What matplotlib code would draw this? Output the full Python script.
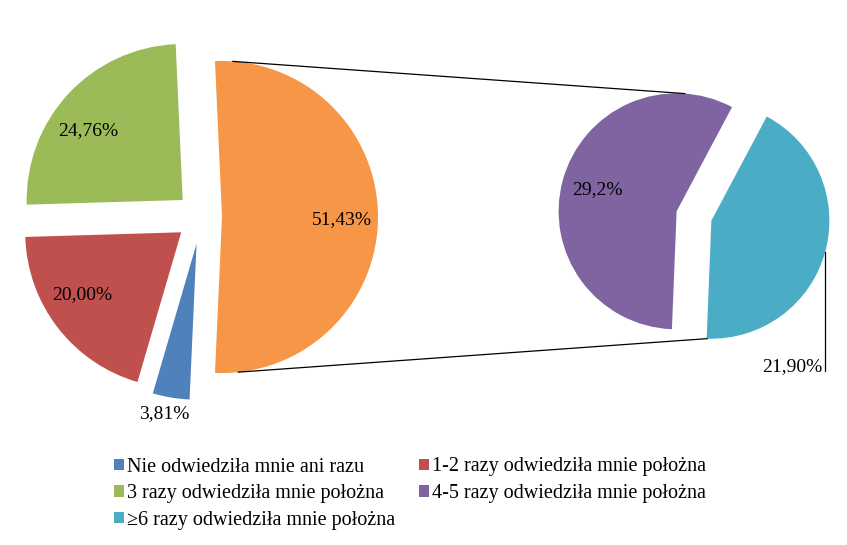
import numpy as np
import matplotlib
matplotlib.use('Agg')
import matplotlib.pyplot as plt
from matplotlib.patches import Patch

plt.rcParams['font.family'] = ['Liberation Serif', 'DejaVu Serif']

# ---- data ----
main_categories = ['Nie odwiedziła mnie ani razu',
                   '1-2 razy odwiedziła mnie położna',
                   '3 razy odwiedziła mnie położna']
main_values = [3.81, 20.00, 24.76]
other_value = 51.43
main_pct_labels = ['3,81%', '20,00%', '24,76%', '51,43%']

sub_categories = ['4-5 razy odwiedziła mnie położna',
                  '≥6 razy odwiedziła mnie położna']
sub_values = [29.2, 21.90]
sub_pct_labels = ['29,2%', '21,90%']

main_colors = ['#4F81BD', '#C0504D', '#9BBB59', '#F79646']
sub_colors = ['#8064A2', '#4BACC6']

W, H = 847, 545
fig = plt.figure(figsize=(W / 100, H / 100), dpi=100)
ax = fig.add_axes([0, 0, 1, 1])

vals = main_values + [other_value]
p_other = other_value / sum(vals)
start = 180 * p_other + 360 * (1 - p_other)

wedges_main, _ = ax.pie(vals, colors=main_colors, startangle=start,
                        counterclock=False, radius=156, center=(201, 328),
                        explode=[27, 25, 25, 21],
                        wedgeprops=dict(linewidth=0))
wedges_sub, _ = ax.pie(sub_values, colors=sub_colors, startangle=62,
                       counterclock=True, radius=118, center=(694, 329),
                       explode=[18, 18],
                       wedgeprops=dict(linewidth=0))

ax.set_xlim(0, W)
ax.set_ylim(0, H)
ax.set_aspect('equal')
ax.axis('off')


def arc_point(w, ang_deg, frac=1.0):
    a = np.deg2rad(ang_deg)
    cx, cy = w.center
    return cx + w.r * frac * np.cos(a), cy + w.r * frac * np.sin(a)


def mid(w):
    return (w.theta1 + w.theta2) / 2


FS = 14
# main pie labels
main_fracs = [1.106, 0.753, 0.755, 0.77]
main_dang = [-1.4, -5.4, 6.5, -1]
for w, lab, fr, da in zip(wedges_main, main_pct_labels, main_fracs, main_dang):
    x, y = arc_point(w, mid(w) + da, fr)
    ax.text(x, y, lab, ha='center', va='center', fontsize=FS)

# secondary pie labels
x, y = arc_point(wedges_sub[0], mid(wedges_sub[0]), 0.70)
ax.text(x, y, sub_pct_labels[0], ha='center', va='center', fontsize=FS)

px, py = arc_point(wedges_sub[1], mid(wedges_sub[1]))
ax.plot([px, px], [py, py - 119], color='black', lw=0.9)
ax.text(px - 3, py - 115, sub_pct_labels[1], ha='right', va='center', fontsize=FS)

# connector lines
ow = wedges_main[3]
t1 = arc_point(ow, 86)
b1 = arc_point(ow, -84)
t2 = arc_point(wedges_sub[0], 86)
b2 = arc_point(wedges_sub[1], -92)
ax.plot([t1[0], t2[0]], [t1[1], t2[1]], color='black', lw=0.9)
ax.plot([b1[0], b2[0]], [b1[1], b2[1]], color='black', lw=0.9)

# legend (row-major order like the original)
all_labels = main_categories + sub_categories
all_colors = main_colors[:3] + sub_colors
order = [0, 2, 4, 1, 3]
handles = [Patch(facecolor=all_colors[i], edgecolor='none') for i in order]
labels = [all_labels[i] for i in order]
fig.legend(handles, labels, ncol=2, loc='upper left',
           bbox_to_anchor=(114 / W, 1 - 457.5 / H), frameon=False,
           fontsize=14.5, handlelength=0.5, handleheight=0.5,
           handletextpad=0.15, columnspacing=1.2, labelspacing=0.38,
           borderpad=0, borderaxespad=0)

fig.savefig('out.png', dpi=100)
